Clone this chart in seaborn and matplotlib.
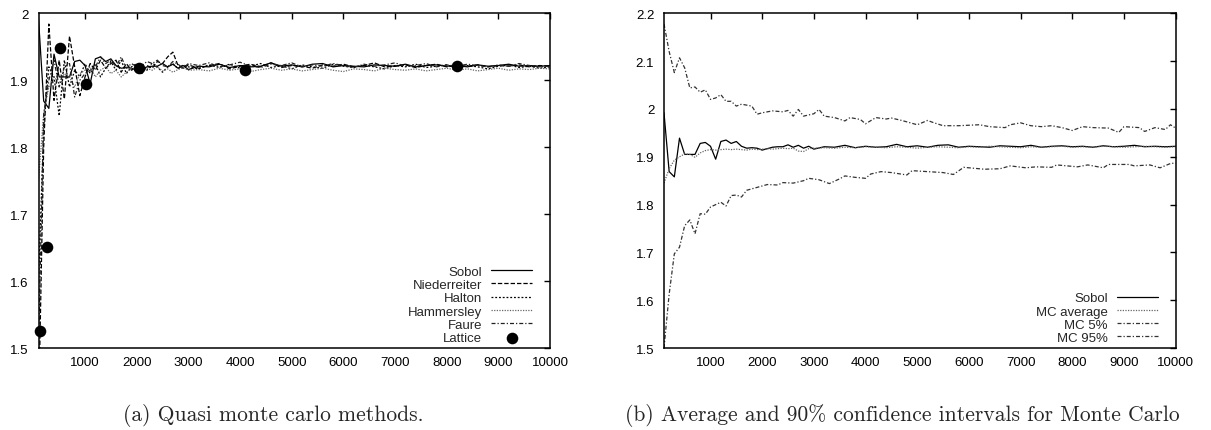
import matplotlib
matplotlib.use("Agg")
import matplotlib.pyplot as plt
import seaborn as sns
from matplotlib.ticker import FixedLocator, FuncFormatter

# sampling grid of the quasi monte carlo runs
x_qmc = list(range(100, 3001, 100)) + list(range(3200, 10001, 200))

sobol = [1.992, 1.869, 1.858, 1.939, 1.905, 1.905, 1.905, 1.928, 1.930, 1.922,
         1.895, 1.932, 1.935, 1.928, 1.932, 1.922, 1.918, 1.919, 1.918, 1.914,
         1.917, 1.920, 1.921, 1.921, 1.925, 1.920, 1.924, 1.918, 1.922, 1.916,
         1.921, 1.920, 1.924, 1.919, 1.922, 1.920, 1.921, 1.926, 1.921, 1.923,
         1.920, 1.924, 1.925, 1.920, 1.922, 1.921, 1.920, 1.923, 1.922, 1.921,
         1.924, 1.920, 1.922, 1.923, 1.921, 1.922, 1.920, 1.923, 1.921, 1.922,
         1.924, 1.921, 1.922, 1.921, 1.922]
niederreiter = [1.400, 1.800, 1.984, 1.870, 1.930, 1.872, 1.966, 1.920, 1.877, 1.905,
                1.925, 1.915, 1.930, 1.918, 1.925, 1.930, 1.912, 1.925, 1.915, 1.920,
                1.910, 1.922, 1.918, 1.928, 1.925, 1.935, 1.942, 1.922, 1.918, 1.923,
                1.918, 1.922, 1.925, 1.917, 1.921, 1.924, 1.920, 1.926, 1.919, 1.922,
                1.921, 1.918, 1.923, 1.921, 1.924, 1.920, 1.922, 1.926, 1.920, 1.921,
                1.923, 1.919, 1.922, 1.924, 1.920, 1.922, 1.921, 1.923, 1.920, 1.922,
                1.921, 1.923, 1.920, 1.922, 1.921]
halton = [1.600, 1.830, 1.920, 1.905, 1.847, 1.930, 1.890, 1.915, 1.905, 1.925,
          1.910, 1.925, 1.905, 1.918, 1.928, 1.915, 1.930, 1.910, 1.920, 1.925,
          1.918, 1.915, 1.926, 1.920, 1.912, 1.920, 1.925, 1.917, 1.923, 1.920,
          1.917, 1.923, 1.919, 1.924, 1.918, 1.921, 1.925, 1.919, 1.922, 1.917,
          1.923, 1.920, 1.918, 1.924, 1.921, 1.919, 1.923, 1.920, 1.917, 1.922,
          1.920, 1.924, 1.919, 1.921, 1.923, 1.918, 1.922, 1.920, 1.917, 1.921,
          1.923, 1.919, 1.921, 1.918, 1.920]
hammersley = [1.750, 1.850, 1.890, 1.905, 1.895, 1.910, 1.905, 1.890, 1.910, 1.915,
              1.920, 1.905, 1.915, 1.920, 1.910, 1.915, 1.905, 1.912, 1.918, 1.915,
              1.912, 1.918, 1.915, 1.920, 1.914, 1.917, 1.912, 1.916, 1.919, 1.915,
              1.916, 1.914, 1.918, 1.915, 1.917, 1.913, 1.916, 1.918, 1.915, 1.917,
              1.914, 1.916, 1.918, 1.915, 1.913, 1.917, 1.916, 1.914, 1.918, 1.916,
              1.915, 1.917, 1.914, 1.916, 1.918, 1.915, 1.917, 1.914, 1.916, 1.918,
              1.915, 1.917, 1.916, 1.918, 1.917]
faure = [1.500, 1.850, 1.900, 1.930, 1.890, 1.920, 1.925, 1.875, 1.900, 1.910,
         1.915, 1.920, 1.935, 1.925, 1.930, 1.920, 1.935, 1.918, 1.925, 1.920,
         1.922, 1.928, 1.925, 1.930, 1.922, 1.920, 1.928, 1.924, 1.918, 1.925,
         1.922, 1.926, 1.920, 1.923, 1.927, 1.921, 1.919, 1.924, 1.922, 1.926,
         1.920, 1.923, 1.921, 1.925, 1.922, 1.919, 1.924, 1.921, 1.923, 1.926,
         1.921, 1.922, 1.925, 1.920, 1.923, 1.921, 1.924, 1.922, 1.920, 1.923,
         1.921, 1.925, 1.922, 1.920, 1.921]

lattice_x = [128, 256, 512, 1024, 2048, 4096, 8192]
lattice_y = [1.525, 1.651, 1.948, 1.895, 1.919, 1.915, 1.922]

mc_avg = [1.845, 1.875, 1.893, 1.900, 1.906, 1.905, 1.899, 1.908, 1.913, 1.915,
          1.914, 1.915, 1.916, 1.915, 1.916, 1.915, 1.914, 1.916, 1.915, 1.916,
          1.917, 1.916, 1.917, 1.918, 1.917, 1.918, 1.912, 1.911, 1.917, 1.918,
          1.919, 1.918, 1.920, 1.919, 1.921, 1.920, 1.919, 1.921, 1.920, 1.918,
          1.920, 1.921, 1.920, 1.919, 1.921, 1.920, 1.922, 1.921, 1.920, 1.919,
          1.921, 1.920, 1.921, 1.922, 1.920, 1.921, 1.920, 1.922, 1.921, 1.920,
          1.921, 1.922, 1.921, 1.920, 1.921]

mc95_x = [100, 200, 300, 400, 500, 600, 700, 800, 900, 1000, 1100, 1200, 1300,
          1400, 1500, 1600, 1700, 1800, 1900, 2000, 2200, 2400, 2500, 2600, 2700,
          2800, 3000, 3100, 3200, 3400, 3600, 3700, 3900, 4000, 4200, 4400, 4500,
          4700, 5000, 5200, 5300, 5500, 5800, 6000, 6200, 6400, 6700, 6800, 7000,
          7200, 7400, 7600, 7800, 8000, 8200, 8400, 8700, 8900, 9000, 9300, 9400,
          9600, 9800, 9900, 10000]
mc95 = [2.178, 2.120, 2.076, 2.107, 2.086, 2.044, 2.046, 2.035, 2.040, 2.020,
        2.023, 2.030, 2.016, 2.016, 2.006, 2.010, 2.008, 2.006, 1.989, 1.992,
        1.996, 1.994, 1.997, 1.985, 1.999, 1.985, 1.990, 1.999, 1.985, 1.982,
        1.975, 1.982, 1.978, 1.969, 1.982, 1.979, 1.981, 1.976, 1.967, 1.976,
        1.972, 1.965, 1.965, 1.966, 1.967, 1.963, 1.961, 1.967, 1.971, 1.965,
        1.963, 1.965, 1.961, 1.955, 1.963, 1.961, 1.960, 1.951, 1.963, 1.961,
        1.953, 1.961, 1.957, 1.967, 1.960]

mc5_x = [100, 200, 300, 400, 500, 600, 700, 800, 900, 1000, 1100, 1200, 1300,
         1400, 1500, 1600, 1700, 1900, 2100, 2300, 2400, 2600, 2800, 2900, 3100,
         3300, 3500, 3600, 3800, 4000, 4100, 4300, 4500, 4800, 4900, 5200, 5500,
         5700, 5900, 6100, 6300, 6600, 6800, 7100, 7300, 7600, 7700, 7900, 8100,
         8300, 8600, 8700, 9100, 9200, 9500, 9700, 9900, 10000]
mc5 = [1.500, 1.613, 1.697, 1.711, 1.756, 1.768, 1.739, 1.781, 1.780, 1.795,
       1.800, 1.805, 1.797, 1.819, 1.820, 1.816, 1.830, 1.836, 1.842, 1.841,
       1.846, 1.845, 1.850, 1.855, 1.852, 1.844, 1.854, 1.860, 1.857, 1.855,
       1.864, 1.869, 1.867, 1.862, 1.871, 1.869, 1.867, 1.863, 1.878, 1.876,
       1.874, 1.875, 1.881, 1.877, 1.879, 1.878, 1.883, 1.881, 1.879, 1.883,
       1.877, 1.884, 1.884, 1.881, 1.883, 1.877, 1.886, 1.887]

x_ticks = [1000, 2000, 3000, 4000, 5000, 6000, 7000, 8000, 9000, 10000]

sns.set_theme(style="white")
plt.rcParams['font.family'] = ['Liberation Sans', 'DejaVu Sans']

TICK_FS = 9.5
LW = 0.9
DASHED = (0, (3.5, 1.6))
SHORTDOT = (0, (1.5, 1.5))
FINEDOT = (0, (1.0, 1.1))
DASHDOT = (0, (3.2, 1.6, 1.0, 1.6))


def style_axes(ax, ymin, ymax):
    ax.set_xlim(100, 10000)
    ax.set_ylim(ymin, ymax)
    ax.xaxis.set_major_locator(FixedLocator(x_ticks))
    ax.yaxis.set_major_locator(FixedLocator([round(ymin + 0.1 * i, 1) for i in range(int(round((ymax - ymin) * 10)) + 1)]))
    ax.yaxis.set_major_formatter(FuncFormatter(lambda v, p: "%g" % v))
    ax.xaxis.set_major_formatter(FuncFormatter(lambda v, p: "%d" % v))
    ax.tick_params(direction="in", length=4.5, width=1.0, colors="black",
                   top=True, right=True, labelsize=TICK_FS)
    ax.tick_params(axis="x", pad=6)
    ax.tick_params(axis="y", pad=7)
    for sp in ax.spines.values():
        sp.set_visible(True)
        sp.set_color("black")
        sp.set_linewidth(1.1)
    ax.set_xlabel("")
    ax.set_ylabel("")
    ax.grid(False)


def right_legend(ax):
    leg = ax.legend(loc="lower right", bbox_to_anchor=(0.965, 0.012), frameon=False,
                    markerfirst=False, fontsize=TICK_FS, handlelength=3.1,
                    handletextpad=0.7, labelspacing=0.08, borderpad=0,
                    borderaxespad=0, scatterpoints=1, numpoints=1)
    # right align the legend texts like gnuplot does
    for col in leg._legend_handle_box.get_children():
        col.align = "right"
    return leg


fig = plt.figure(figsize=(12.11, 4.31), dpi=100)
ax1 = fig.add_axes([0.0318, 0.190, 0.4224, 0.7768])
ax2 = fig.add_axes([0.5483, 0.190, 0.4225, 0.7768])

# (a) quasi monte carlo methods
sns.lineplot(x=x_qmc, y=sobol, ax=ax1, color="black", lw=LW, label="Sobol")
sns.lineplot(x=x_qmc, y=niederreiter, ax=ax1, color="black", lw=LW, linestyle=DASHED, label="Niederreiter")
sns.lineplot(x=x_qmc, y=halton, ax=ax1, color="black", lw=LW, linestyle=SHORTDOT, label="Halton")
sns.lineplot(x=x_qmc, y=hammersley, ax=ax1, color="#666666", lw=LW, linestyle=FINEDOT, label="Hammersley")
sns.lineplot(x=x_qmc, y=faure, ax=ax1, color="#222222", lw=LW, linestyle=DASHDOT, label="Faure")
sns.scatterplot(x=lattice_x, y=lattice_y, ax=ax1, color="black", s=70, edgecolor="black",
                linewidth=0, label="Lattice", zorder=5, clip_on=False)
style_axes(ax1, 1.5, 2.0)
right_legend(ax1)

# (b) monte carlo average and 90% interval
sns.lineplot(x=x_qmc, y=sobol, ax=ax2, color="black", lw=LW, label="Sobol")
sns.lineplot(x=x_qmc, y=mc_avg, ax=ax2, color="#666666", lw=LW, linestyle=FINEDOT, label="MC average")
sns.lineplot(x=mc5_x, y=mc5, ax=ax2, color="#333333", lw=LW, linestyle=DASHDOT, label="MC 5%")
sns.lineplot(x=mc95_x, y=mc95, ax=ax2, color="#333333", lw=LW, linestyle=DASHDOT, label="MC 95%")
style_axes(ax2, 1.5, 2.2)
right_legend(ax2)

cap_font = ['cmr10', 'DejaVu Serif']
fig.text(0.2254, 0.037, "(a) Quasi monte carlo methods.", ha="center", va="center",
         fontsize=15.5, family=cap_font)
fig.text(0.7448, 0.037, "(b) Average and 90% confidence intervals for Monte Carlo",
         ha="center", va="center", fontsize=15.5, family=cap_font)

fig.savefig("out.png", dpi=100)
